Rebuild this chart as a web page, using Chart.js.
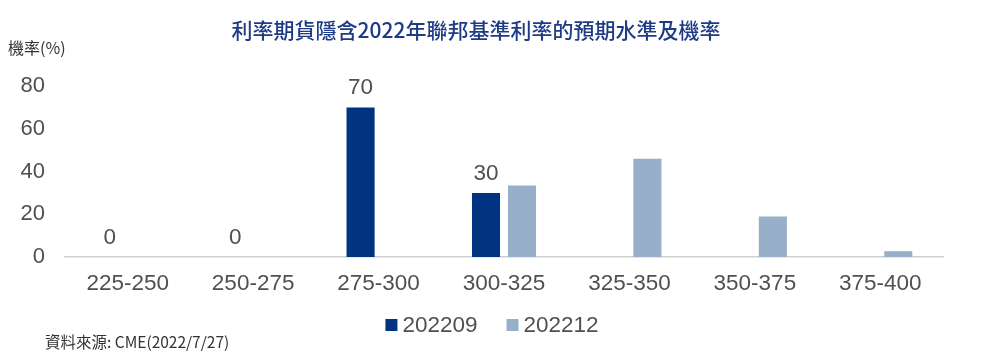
<!DOCTYPE html>
<html lang="zh-Hant">
<head>
  <meta charset="UTF-8" />
  <title>利率期貨隱含2022年聯邦基準利率的預期水準及機率</title>
  <script src="https://cdn.jsdelivr.net/npm/chart.js"></script>
  <style>
    html,body{margin:0;padding:0;background:#fff}
    #wrap{position:relative;width:994px;height:364px}
  </style>
</head>
<body>
<div id="wrap"><canvas id="rateChart" width="994" height="364"></canvas></div>
<script>
const categories = ['225-250','250-275','275-300','300-325','325-350','350-375','375-400'];
const sepValues = [0, 0, 70, 30, null, null, null];      // 202209
const decValues = [null, null, null, 33.4, 46.0, 18.9, 2.7]; // 202212
const yTicks = [0, 20, 40, 60, 80];

const TITLE = '利率期貨隱含2022年聯邦基準利率的預期水準及機率';
const Y_LABEL = '機率(%)';
const SOURCE = '資料來源: CME(2022/7/27)';
const CJK = '"Noto Sans CJK TC","Liberation Sans",sans-serif';
const NUM = '"Liberation Sans",Arial,sans-serif';
const TEXT = '#505050';

// title, axis caption, legend, source and value labels
const extras = {
  id: 'extras',
  afterDraw(chart){
    const ctx = chart.ctx;
    ctx.save();
    ctx.fillStyle = '#1f3b86';
    ctx.font = '500 21px ' + CJK;
    ctx.textAlign = 'center'; ctx.textBaseline = 'middle';
    ctx.fillText(TITLE, 476, 30);
    ctx.fillStyle = '#333';
    ctx.font = '16px ' + CJK;
    ctx.textAlign = 'left';
    ctx.fillText(Y_LABEL, 8, 48);
    ctx.font = '15.5px ' + CJK;
    ctx.fillText(SOURCE, 45, 342);

    // legend
    const box = 12, gapText = 5, gapItem = 29, ly = 325;
    ctx.font = '22.5px ' + NUM;
    const items = chart.data.datasets.map(ds => ({label: ds.label, color: ds.backgroundColor, w: ctx.measureText(ds.label).width}));
    const total = items.reduce((s, it) => s + box + gapText + it.w, 0) + gapItem * (items.length - 1);
    let x = 492 - total / 2;
    items.forEach(it => {
      ctx.fillStyle = it.color;
      ctx.fillRect(x, ly - box / 2, box, box);
      ctx.fillStyle = TEXT;
      ctx.fillText(it.label, x + box + gapText, ly + 1);
      x += box + gapText + it.w + gapItem;
    });

    // value labels for 202209 only
    const meta = chart.getDatasetMeta(0);
    ctx.fillStyle = TEXT;
    ctx.textAlign = 'center'; ctx.textBaseline = 'bottom';
    meta.data.forEach((bar, i) => {
      const v = sepValues[i];
      if (v === null) return;
      ctx.fillText(String(v), bar.x, bar.y - 8);
    });
    ctx.restore();
  }
};

new Chart(document.getElementById('rateChart'), {
  type: 'bar',
  data: {
    labels: categories,
    datasets: [
      {label:'202209', data:sepValues, backgroundColor:'#003380', borderWidth:0},
      {label:'202212', data:decValues, backgroundColor:'#98afca', borderWidth:0}
    ]
  },
  options: {
    responsive: false,
    animation: false,
    layout: {padding: {left: 0, right: 51, top: 86, bottom: 62}},
    datasets: {bar: {categoryPercentage: 0.574, barPercentage: 0.78}},
    plugins: {
      legend: {display: false},
      tooltip: {enabled: false}
    },
    scales: {
      x: {
        grid: {display: false},
        border: {display: true, color: '#d0d0d0', width: 1.5},
        ticks: {color: TEXT, font: {family: NUM, size: 22.5}, padding: 5, maxRotation: 0}
      },
      y: {
        min: 0, max: 80,
        afterFit(scale){ scale.width = 65; },
        afterBuildTicks(scale){ scale.ticks = yTicks.map(v => ({value: v})); },
        grid: {display: false},
        border: {display: false},
        ticks: {color: TEXT, font: {family: NUM, size: 22}, padding: 12}
      }
    }
  },
  plugins: [extras]
});
</script>
</body>
</html>
